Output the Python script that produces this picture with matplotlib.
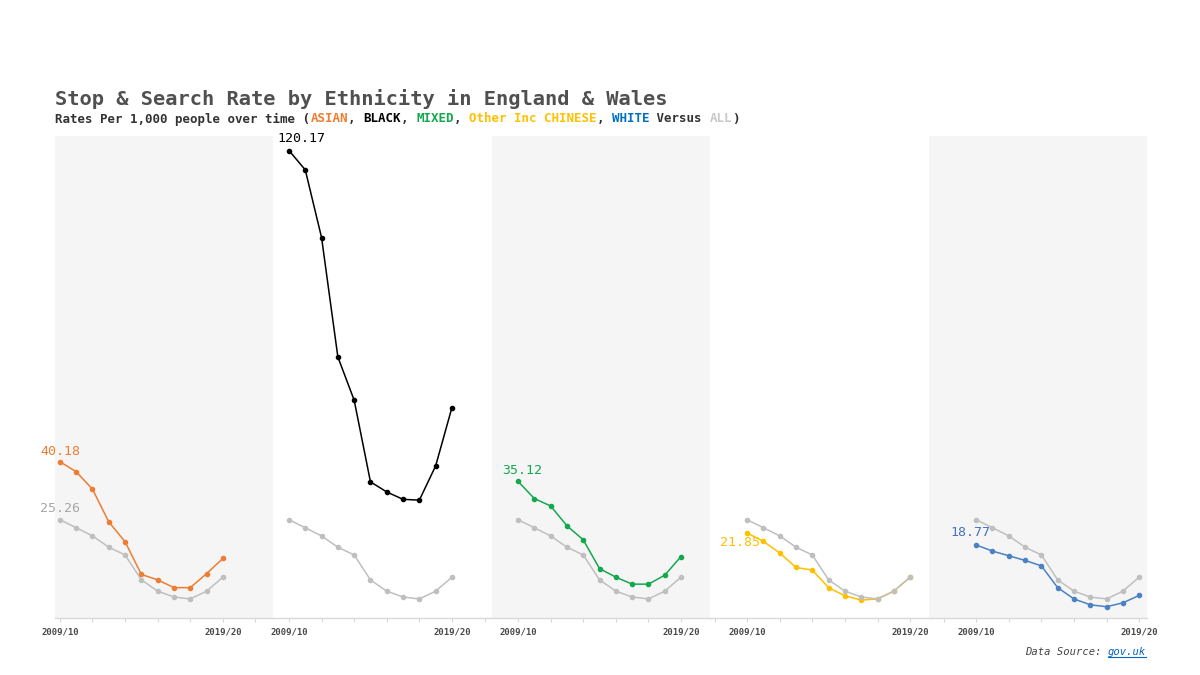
import matplotlib
matplotlib.use("Agg")
import matplotlib.pyplot as plt
from matplotlib.lines import Line2D

# data (rate per 1,000 people)
years = ['2009/10', '2010/11', '2011/12', '2012/13', '2013/14', '2014/15',
         '2015/16', '2016/17', '2017/18', '2018/19', '2019/20']
all_rate = [25.26, 23.2, 21.1, 18.2, 16.2, 9.8, 6.9, 5.4, 4.9, 6.9, 10.5]
asian = [40.18, 37.6, 33.1, 24.7, 19.6, 11.2, 9.8, 7.8, 7.8, 11.4, 15.3]
black = [120.17, 115.2, 97.8, 67.1, 56.0, 35.0, 32.4, 30.5, 30.3, 39.1, 54.1]
mixed = [35.12, 30.7, 28.8, 23.7, 20.1, 12.7, 10.5, 8.7, 8.7, 11.0, 15.8]
other = [21.85, 19.7, 16.7, 13.0, 12.3, 7.8, 5.7, 4.6, 4.9, 6.9, 10.5]
white = [18.77, 17.2, 16.0, 14.8, 13.4, 7.8, 4.9, 3.4, 2.9, 3.9, 5.8]

groups = ['ASIAN', 'BLACK', 'MIXED', 'Other Inc CHINESE', 'WHITE']
series = [asian, black, mixed, other, white]
colors = ['#ED7D31', '#000000', '#14A84E', '#FFC000', '#4A82C3']
label_colors = ['#ED7D31', '#000000', '#14A84E', '#FFC000', '#4472C4']
grey = '#BFBFBF'

# label offsets in points (x, y) relative to the first point
label_off = [(0, 7), (9, 9), (3, 8), (-5, -7), (-4, 9)]

mono = 'DejaVu Sans Mono'
fig = plt.figure(figsize=(12, 6.75), dpi=100)

W, H = 1200, 675
pw = 218.4
x = list(range(len(years)))

for i in range(5):
    left = 55 + pw * i
    ax = fig.add_axes([left / W, 57 / H, pw / W, 482 / H])
    ax.set_facecolor('#F5F5F5' if i % 2 == 0 else 'white')
    for s in ['top', 'left', 'right']:
        ax.spines[s].set_visible(False)
    ax.spines['bottom'].set_color('#D9D9D9')
    ax.spines['bottom'].set_linewidth(1.0)

    xlo = -0.3 - 0.655 * i
    ax.set_xlim(xlo, xlo + 13.4)
    ax.set_ylim(0, 123.9)
    ax.set_yticks([])

    ticks = [t for t in range(-4, 16, 2) if xlo <= t <= xlo + 13.4]
    labs = [years[0] if t == 0 else (years[-1] if t == 10 else '') for t in ticks]
    ax.set_xticks(ticks)
    ax.set_xticklabels(labs, fontfamily=mono, fontsize=6.5, color='#4a4a4a',
                       fontweight='bold')
    ax.tick_params(axis='x', length=3, color='#D9D9D9', pad=4)

    ax.plot(x, series[i], color=colors[i], lw=1.1, marker='o', ms=3, zorder=2)
    ax.plot(x, all_rate, color=grey, lw=1.1, marker='o', ms=3, zorder=3)

    ax.annotate(f'{series[i][0]:.2f}', (0, series[i][0]), xytext=label_off[i],
                textcoords='offset points', ha='center', va='center',
                fontfamily=mono, fontsize=9.5, color=label_colors[i],
                annotation_clip=False, zorder=5)
    if i == 0:
        ax.annotate(f'{all_rate[0]:.2f}', (0, all_rate[0]), xytext=(0, 8),
                    textcoords='offset points', ha='center', va='center',
                    fontfamily=mono, fontsize=9.5, color='#A6A6A6',
                    annotation_clip=False, zorder=5)

# title
fig.text(55 / W, 1 - 105 / H, 'Stop & Search Rate by Ethnicity in England & Wales',
         fontfamily=mono, fontweight='bold', fontsize=14.7, color='#505050',
         va='baseline', ha='left')

# subtitle, coloured piece by piece (monospace so width per char is fixed)
sub_size = 9
cw = 0.602 * sub_size * 100 / 72
parts = [('Rates Per 1,000 people over time (', '#333333'),
         ('ASIAN', colors[0]), (', ', '#333333'),
         ('BLACK', '#000000'), (', ', '#333333'),
         ('MIXED', colors[2]), (', ', '#333333'),
         ('Other Inc CHINESE', colors[3]), (', ', '#333333'),
         ('WHITE', '#0070C0'), (' Versus ', '#333333'),
         ('ALL', '#C8C8C8'), (')', '#333333')]
px = 55
for txt, c in parts:
    fig.text(px / W, 1 - 122.5 / H, txt, fontfamily=mono, fontweight='bold',
             fontsize=sub_size, color=c, va='baseline', ha='left')
    px += len(txt) * cw

# data source
src_size = 7.6
cw2 = 0.602 * src_size * 100 / 72
x0 = 1146 - 19 * cw2
fig.text(x0 / W, 1 - 655 / H, 'Data Source: ', fontfamily=mono, style='italic',
         fontsize=src_size, color='#444444', va='baseline', ha='left')
fig.text(1146 / W, 1 - 655 / H, 'gov.uk', fontfamily=mono, style='italic',
         fontsize=src_size, color='#0563C1', va='baseline', ha='right')
fig.add_artist(Line2D([(1146 - 6 * cw2) / W, 1146 / W], [1 - 657 / H, 1 - 657 / H],
                      color='#0563C1', lw=0.8, transform=fig.transFigure))

fig.savefig('out.png', dpi=100)
